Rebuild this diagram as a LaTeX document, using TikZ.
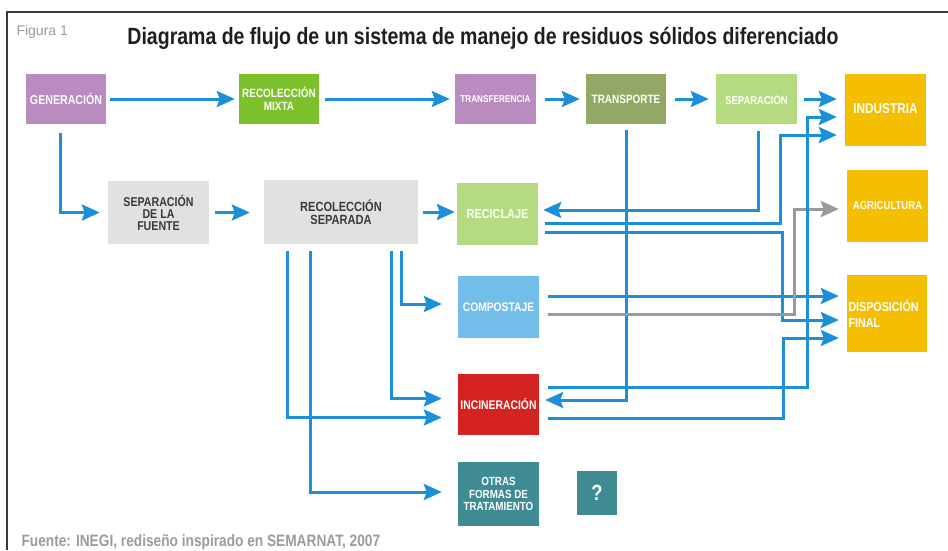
\documentclass[tikz,border=0pt]{standalone}
\usepackage{fontspec}
\setmainfont{Liberation Sans}[FakeStretch=0.83]
\newfontfamily\anchasans{Liberation Sans}
\usetikzlibrary{arrows.meta}

\definecolor{lila}{HTML}{B98BBE}
\definecolor{verde}{HTML}{7CC12B}
\definecolor{oliva}{HTML}{94A866}
\definecolor{verdeclaro}{HTML}{B5DA7F}
\definecolor{amarillo}{HTML}{F4BF00}
\definecolor{grisclaro}{HTML}{E1E1E1}
\definecolor{grisoscuro}{HTML}{3A3A3A}
\definecolor{celeste}{HTML}{72BDEA}
\definecolor{rojo}{HTML}{D42220}
\definecolor{turquesa}{HTML}{3F8B94}
\definecolor{azul}{HTML}{1B8FD8}
\definecolor{grisflecha}{HTML}{9A9A9A}
\definecolor{gristexto}{HTML}{9C9C9C}
\definecolor{marco}{HTML}{3A3A3A}

\newcommand{\tam}[2]{\bfseries\fontsize{#1}{#2}\selectfont}

\begin{document}
\begin{tikzpicture}[x=1pt, y=-1pt,
  caja/.style={rectangle, inner sep=0pt, align=center, text=white,
    minimum width=81pt, minimum height=50pt},
  flujo/.style={draw=azul, line width=3pt, shorten <=7pt, shorten >=8pt,
    -{Stealth[length=18pt, width=16pt, inset=3pt]}},
  flujogris/.style={flujo, draw=grisflecha}]

  \fill[white] (0,0) rectangle (948,550);
  \useasboundingbox (0,0) rectangle (948,550);

  % marco y textos
  \draw[marco, line width=1.5pt] (7,550) -- (7,12) -- (948,12);
  \node[anchor=west, text=gristexto, font=\anchasans\fontsize{14}{14}\selectfont] (fig) at (13,32) {Figura 1};
  \node[text=black!88, font=\tam{23.5}{24}] (titulo) at (483,38.5)
    {Diagrama de flujo de un sistema de manejo de residuos sólidos diferenciado};
  \node[anchor=west, text=gristexto, font=\tam{16.5}{16}] (fuente) at (18,542)
    {Fuente: INEGI, rediseño inspirado en SEMARNAT, 2007};

  % fila superior
  \node[caja, fill=lila, minimum width=80pt, font=\tam{12.8}{12.5}] (gen) at (66,99) {GENERACIÓN};
  \node[caja, fill=verde, minimum width=80pt, font=\tam{12}{12.7}] (recmix) at (279,99) {RECOLECCIÓN\\MIXTA};
  \node[caja, fill=lila, font=\tam{9.9}{11}] (transf) at (495.5,99) {TRANSFERENCIA};
  \node[caja, fill=oliva, minimum width=80pt, font=\tam{12}{12}] (transp) at (626,99) {TRANSPORTE};
  \node[caja, fill=verdeclaro, font=\tam{11.4}{12}] (sepa) at (756.5,99) {SEPARACIÓN};

  % destinos
  \node[caja, fill=amarillo, minimum height=72pt, font=\tam{14.2}{14}] (indus) at (885.5,110) {\raisebox{2pt}{INDUSTRIA}};
  \node[caja, fill=amarillo, minimum height=72pt, font=\tam{11.5}{12}] (agri) at (887.5,206) {AGRICULTURA};
  \node[caja, fill=amarillo, minimum width=80pt, minimum height=77pt, text width=77pt,
    align=left, font=\tam{12.9}{16}] (disp) at (887,313.5) {DISPOSICIÓN\\FINAL};

  % recolección separada y tratamientos
  \node[caja, fill=grisclaro, text=grisoscuro, minimum width=101pt, minimum height=63pt,
    font=\tam{12.8}{12}] (sepfu) at (158.5,212.5) {SEPARACIÓN\\DE LA\\FUENTE};
  \node[caja, fill=grisclaro, text=grisoscuro, minimum width=154pt, minimum height=64pt,
    font=\tam{13.3}{13}] (recsep) at (341,212) {RECOLECCIÓN\\SEPARADA};
  \node[caja, fill=verdeclaro, minimum height=62pt, font=\tam{13.1}{13}] (recic) at (497.5,214) {RECICLAJE};
  \node[caja, fill=celeste, minimum height=62pt, font=\tam{12.4}{12}] (compo) at (498.5,307) {COMPOSTAJE};
  \node[caja, fill=rojo, minimum height=61pt, font=\tam{12.5}{12}] (incin) at (498.5,404.5) {\raisebox{-3pt}{INCINERACIÓN}};
  \node[caja, fill=turquesa, minimum height=64pt, font=\tam{11.8}{12.5}] (otras) at (498.5,494) {OTRAS\\FORMAS DE\\TRATAMIENTO};
  \node[caja, fill=turquesa, minimum width=40pt, minimum height=44pt, font=\tam{22}{22}] (preg) at (597,493) {?};

  % flujo mixto
  \draw[flujo, shorten <=4pt, shorten >=4pt] (gen) -- (recmix);
  \draw[flujo, shorten <=6pt, shorten >=5pt] (recmix) -- (transf);
  \draw[flujo, shorten <=9pt, shorten >=6pt] (transf) -- (transp);
  \draw[flujo, shorten <=9pt, shorten >=7pt] (transp) -- (sepa);
  \draw[flujo] (sepa.east) -- (sepa.east -| indus.west);

  % flujo diferenciado
  \draw[flujo, shorten <=9pt] ([xshift=-6pt]gen.south) |- (sepfu.west);
  \draw[flujo, shorten <=6pt, shorten >=14pt] (sepfu.east) -- (sepfu.east -| recsep.west);
  \draw[flujo, shorten <=5pt, shorten >=2pt] (recsep.east) -- (recsep.east -| recic.west);

  % retornos desde separación y transporte
  \draw[flujo, shorten >=5pt] ([xshift=1.5pt]sepa.south) |- ([yshift=4pt]recic.east);
  \draw[flujo, shorten <=6pt, shorten >=6pt] (transp.south) |- ([yshift=4.5pt]incin.east);

  % salidas de reciclaje
  \draw[flujo] ([yshift=-9pt]recic.east) -- ++(242,0) |- ([yshift=-25pt]indus.west);
  \draw[flujo] ([yshift=-18pt]recic.east) -- ++(244,0) |- ([yshift=-6.5pt]disp.west);

  % salidas de compostaje
  \draw[flujo, shorten <=9pt] ([yshift=11pt]compo.east) -- ([yshift=11pt]compo.east -| disp.west);
  \draw[flujogris, shorten <=9pt] ([yshift=-7pt]compo.east) -- ++(255,0) |- ([yshift=-3pt]agri.west);

  % salidas de incineración
  \draw[flujo, shorten <=9pt] ([yshift=17.5pt]incin.east) -- ++(268,0) |- ([yshift=-7pt]indus.west);
  \draw[flujo, shorten <=9pt] ([yshift=-13.5pt]incin.east) -- ++(244,0) |- ([yshift=-24.5pt]disp.west);

  % ramales de recolección separada
  \draw[flujo, shorten >=16pt] ([xshift=60pt]recsep.south) |- ([yshift=3pt]compo.west);
  \draw[flujo, shorten >=16pt] ([xshift=50pt]recsep.south) |- ([yshift=6pt]incin.west);
  \draw[flujo, shorten >=16pt] ([xshift=-54pt]recsep.south) |- ([yshift=-13pt]incin.west);
  \draw[flujo, shorten >=16pt] ([xshift=-31pt]recsep.south) |- ([yshift=2pt]otras.west);
\end{tikzpicture}
\end{document}
